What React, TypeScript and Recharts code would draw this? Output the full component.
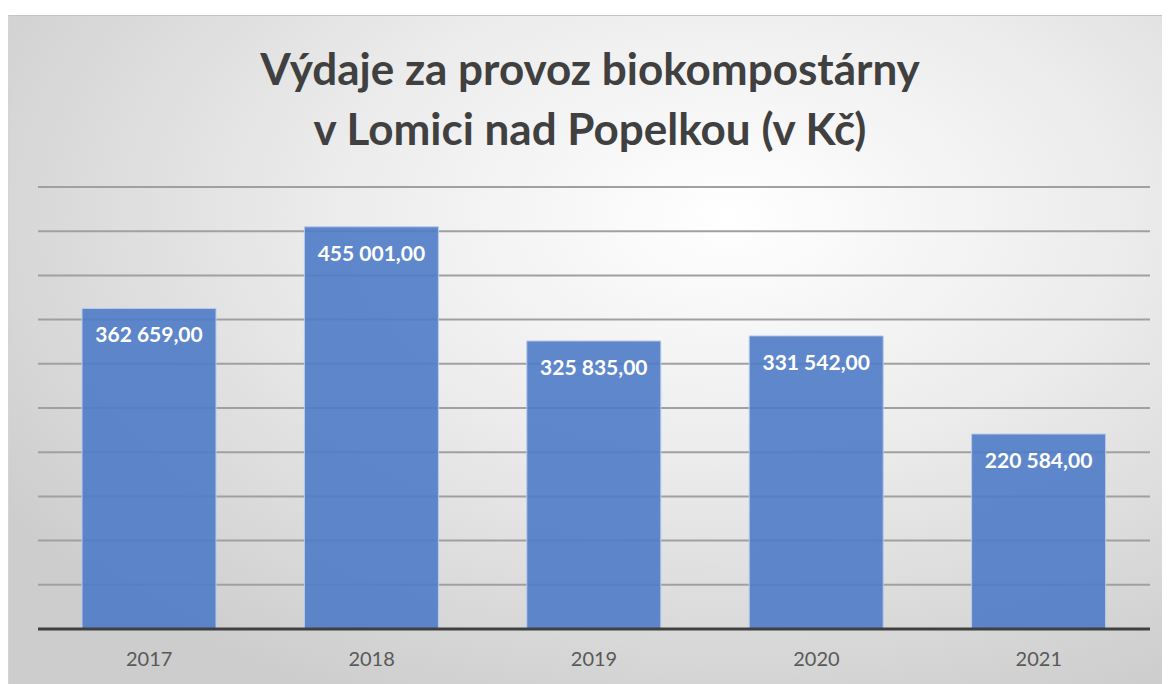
import React from "react"
import { BarChart, Bar, XAxis, YAxis, CartesianGrid, LabelList } from "recharts"

const years = ["2017", "2018", "2019", "2020", "2021"];
const expenses = [362659, 455001, 325835, 331542, 220584];
const yTicks = [0, 50000, 100000, 150000, 200000, 250000, 300000, 350000, 400000, 450000, 500000];

const barColor = "#4f7bc8";
const textColor = "#404040";
const gridColor = "#a0a0a0";

const data = years.map((y, i) => ({ year: y, value: expenses[i] }));

function formatCzk(v: number): string {
    const [intPart, dec] = v.toFixed(2).split(".");
    const grouped = intPart.replace(/\B(?=(\d{3})+(?!\d))/g, " ");
    return grouped + "," + dec;
}

const ValueLabel = (props: any) => {
    const { x, y, width, value } = props;
    return (
        <text x={x + width / 2} y={y + 34} textAnchor="middle" fill="#ffffff"
            fontFamily="Lato" fontWeight={700} fontSize={21}>
            {formatCzk(value)}
        </text>
    );
};

export default function App() {
    return (
        <div style={{
            position: "relative", width: 1162, height: 669, marginTop: 7,
            borderTop: "1px solid #c4c4c4", borderLeft: "1px solid #d4d4d4", boxSizing: "border-box",
            background: "radial-gradient(ellipse 75% 80% at 62% 30%, #ffffff 0%, #ececec 45%, #cdcdcd 100%)",
        }}>
            <div style={{
                position: "absolute", top: 22, left: 0, width: 1162, textAlign: "center",
                fontFamily: "Lato", fontWeight: 700, fontSize: 44, lineHeight: "60px", color: textColor,
            }}>
                Výdaje za provoz biokompostárny<br />v Lomici nad Popelkou (v Kč)
            </div>
            <div style={{ position: "absolute", top: -1, left: -1 }}>
                <BarChart width={1162} height={669} data={data}
                    margin={{ top: 172, right: 20, bottom: 15, left: 30 }} barCategoryGap={44}>
                    <CartesianGrid horizontal vertical={false} stroke={gridColor} strokeWidth={2} />
                    <YAxis hide domain={[0, 500000]} ticks={yTicks} />
                    <XAxis dataKey="year" height={40} axisLine={{ stroke: textColor, strokeWidth: 3 }}
                        tickLine={false} tick={{ fill: "#595959", fontSize: 20, fontFamily: "Lato" }} tickMargin={17} />
                    <Bar dataKey="value" fill={barColor} fillOpacity={0.9} stroke="#b8cbea" strokeWidth={1}
                        isAnimationActive={false}>
                        <LabelList dataKey="value" content={<ValueLabel />} />
                    </Bar>
                </BarChart>
            </div>
        </div>
    );
}
